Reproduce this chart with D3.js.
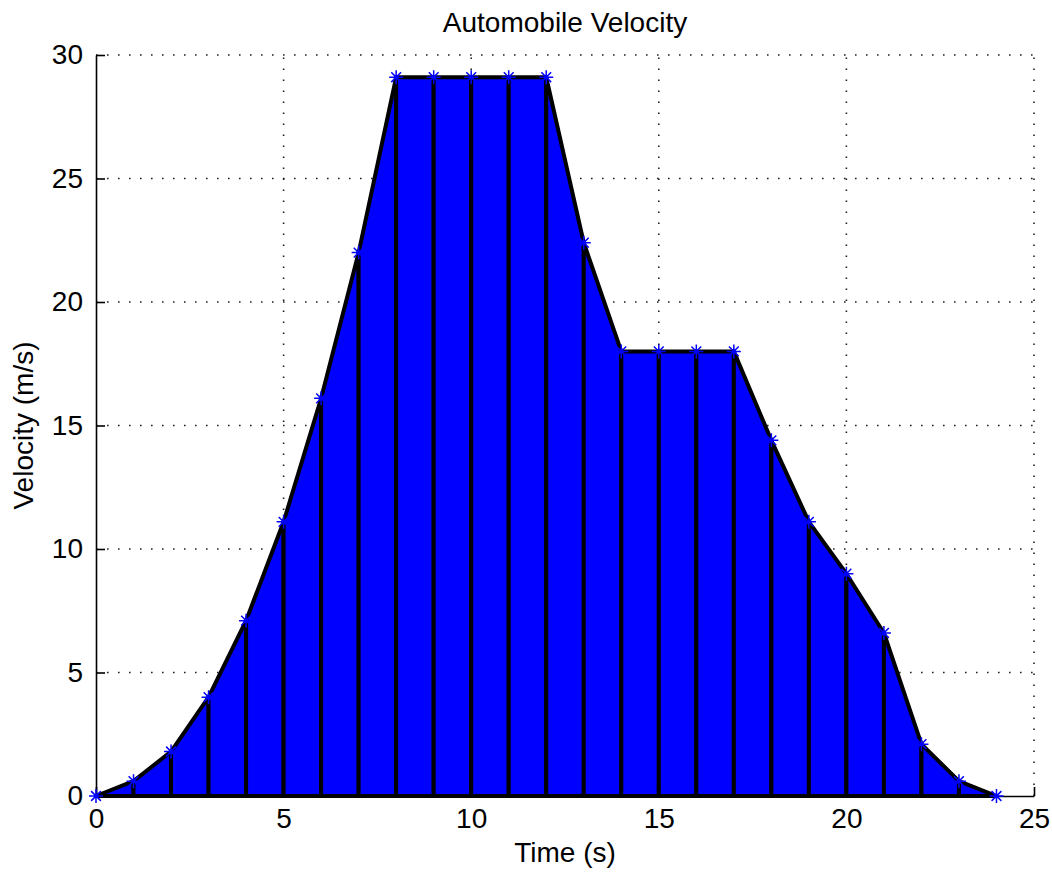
<!DOCTYPE html>
<html>
<head>
<meta charset="utf-8">
<script src="https://cdn.jsdelivr.net/npm/d3@7"></script>
<style>
  body { margin: 0; background: #fff; }
  text { font-family: "Liberation Sans", Arial, sans-serif; fill: #000; }
</style>
</head>
<body>
<div id="chart"></div>
<script>

var timeValues = [0, 1, 2, 3, 4, 5, 6, 7, 8, 9, 10, 11, 12, 13, 14, 15, 16, 17, 18, 19, 20, 21, 22, 23, 24];
var velocityValues = [0, 0.6, 1.8, 4.0, 7.1, 11.1, 16.1, 22.0, 29.1, 29.1, 29.1, 29.1, 29.1,
                      22.4, 18.0, 18.0, 18.0, 18.0, 14.4, 11.1, 9.0, 6.6, 2.1, 0.6, 0];
var xTicks = [0, 5, 10, 15, 20, 25];
var yTicks = [0, 5, 10, 15, 20, 25, 30];

var width = 1052, height = 873;
var plotLeft = 96, plotRight = 1034, plotTop = 55, plotBottom = 796;
var fontSize = 28;

var svg = d3.select("#chart")
  .append("svg")
  .attr("width", width)
  .attr("height", height);

var x = d3.scaleLinear().domain([0, 25]).range([plotLeft, plotRight]);
var y = d3.scaleLinear().domain([0, 30]).range([plotBottom, plotTop]);

// dotted grid
var grid = svg.append("g")
  .style("stroke", "#222")
  .style("stroke-width", 1.6)
  .style("stroke-dasharray", "1.6,9.4");

grid.selectAll(".gx")
  .data(xTicks.slice(1))
  .enter().append("line")
  .attr("x1", function (d) { return x(d); })
  .attr("x2", function (d) { return x(d); })
  .attr("y1", plotBottom)
  .attr("y2", plotTop);

grid.selectAll(".gy")
  .data(yTicks.slice(1))
  .enter().append("line")
  .attr("x1", plotLeft)
  .attr("x2", plotRight)
  .attr("y1", function (d) { return y(d); })
  .attr("y2", function (d) { return y(d); });

// one trapezoid per interval, blue with black edges
var pts = timeValues.map(function (t, i) { return { t: t, v: velocityValues[i] }; });

var area = d3.area()
  .x(function (d) { return x(d.t); })
  .y0(y(0))
  .y1(function (d) { return y(d.v); });

var segments = d3.range(pts.length - 1).map(function (i) { return [pts[i], pts[i + 1]]; });

svg.append("g").selectAll("path")
  .data(segments)
  .enter().append("path")
  .attr("d", function (d) { return area(d) + "Z"; })
  .style("fill", "#0000ff")
  .style("stroke", "#000")
  .style("stroke-width", 4)
  .style("stroke-linejoin", "round");

// axes
var xAxis = svg.append("g")
  .attr("transform", "translate(0," + plotBottom + ")")
  .call(d3.axisBottom(x).tickValues(xTicks).tickSize(-9).tickPadding(12).tickSizeOuter(0));

var yAxis = svg.append("g")
  .attr("transform", "translate(" + plotLeft + ",0)")
  .call(d3.axisLeft(y).tickValues(yTicks).tickSize(-9).tickPadding(13).tickSizeOuter(0));

[xAxis, yAxis].forEach(function (a) {
  a.select(".domain").style("stroke", "#000").style("stroke-width", 1.6);
  a.selectAll(".tick line").style("stroke", "#000").style("stroke-width", 1.6);
  a.selectAll("text")
    .style("font-family", "\"Liberation Sans\", Arial, sans-serif")
    .style("font-size", fontSize + "px")
    .style("fill", "#000");
});

// asterisk markers
var markers = svg.append("g")
  .style("stroke", "#0000ff")
  .style("stroke-width", 1.5)
  .style("fill", "none");

var r = 7;
markers.selectAll("path")
  .data(pts)
  .enter().append("path")
  .attr("transform", function (d) { return "translate(" + x(d.t) + "," + y(d.v) + ")"; })
  .attr("d", "M" + (-r) + ",0H" + r + "M0," + (-r) + "V" + r +
             "M" + (-r * 0.7) + "," + (-r * 0.7) + "L" + (r * 0.7) + "," + (r * 0.7) +
             "M" + (-r * 0.7) + "," + (r * 0.7) + "L" + (r * 0.7) + "," + (-r * 0.7));

// labels
svg.append("text")
  .attr("x", (plotLeft + plotRight) / 2)
  .attr("y", 32)
  .style("text-anchor", "middle")
  .style("font-size", fontSize + "px")
  .text("Automobile Velocity");

svg.append("text")
  .attr("x", (plotLeft + plotRight) / 2)
  .attr("y", 862)
  .style("text-anchor", "middle")
  .style("font-size", fontSize + "px")
  .text("Time (s)");

svg.append("text")
  .attr("transform", "translate(33," + ((plotTop + plotBottom) / 2) + ") rotate(-90)")
  .style("text-anchor", "middle")
  .style("font-size", fontSize + "px")
  .text("Velocity (m/s)");

</script>
</body>
</html>
